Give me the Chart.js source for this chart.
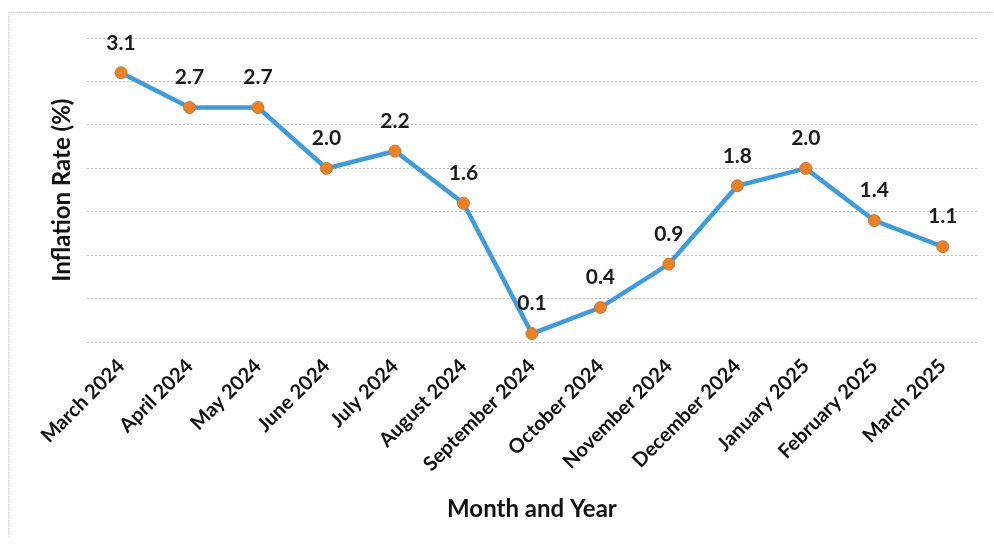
<!DOCTYPE html>
<html>
<head>
<meta charset="utf-8">
<script src="https://cdn.jsdelivr.net/npm/chart.js@4.4.1/dist/chart.umd.min.js"></script>
<style>
    html, body { margin: 0; padding: 0; background: #fff; }
    #wrap { position: relative; width: 994px; height: 545px; }
    #frame { position: absolute; left: 8px; top: 12px; right: 0; bottom: 8px;
             border-top: 1px dotted #d8d8d8; border-left: 1px dotted #d8d8d8; }
</style>
</head>
<body>
<div id="wrap">
    <div id="frame"></div>
    <canvas id="inflationChart" width="994" height="545"></canvas>
</div>
<script>
// =====================================
// DATA
// =====================================
const months = [
    "March 2024", "April 2024", "May 2024", "June 2024", "July 2024",
    "August 2024", "September 2024", "October 2024", "November 2024",
    "December 2024", "January 2025", "February 2025", "March 2025"
];
const inflationRates = [3.1, 2.7, 2.7, 2.0, 2.2, 1.6, 0.1, 0.4, 0.9, 1.8, 2.0, 1.4, 1.1];

const FONT = "Lato, 'Open Sans', sans-serif";

// =====================================
// VALUE LABELS ABOVE POINTS
// =====================================
const valueLabels = {
    id: "valueLabels",
    afterDatasetsDraw(chart) {
        const ctx = chart.ctx;
        const meta = chart.getDatasetMeta(0);
        ctx.save();
        ctx.font = `bold 21px ${FONT}`;
        ctx.fillStyle = "#1a1a1a";
        ctx.textAlign = "center";
        ctx.textBaseline = "middle";
        meta.data.forEach((pt, i) => {
            ctx.fillText(inflationRates[i].toFixed(1), pt.x, pt.y - 30);
        });
        ctx.restore();
    }
};

// =====================================
// CHART
// =====================================
new Chart(document.getElementById("inflationChart"), {
    type: "line",
    data: {
        labels: months,
        datasets: [{
            data: inflationRates,
            borderColor: "#3d9be0",
            borderWidth: 4.5,
            pointBackgroundColor: "#f07f1e",
            pointBorderColor: "#b5804f",
            pointBorderWidth: 1,
            pointRadius: 6,
            tension: 0
        }]
    },
    options: {
        responsive: false,
        animation: false,
        layout: { padding: { left: 44, right: 17, top: 38, bottom: 17 } },
        plugins: {
            legend: { display: false },
            tooltip: { enabled: false }
        },
        scales: {
            x: {
                offset: true,
                grid: { display: false },
                border: { display: false },
                ticks: {
                    color: "#111",
                    font: { family: FONT, size: 20, weight: "bold" },
                    maxRotation: 45,
                    minRotation: 45,
                    padding: 4
                },
                title: {
                    display: true,
                    text: "Month and Year",
                    color: "#111",
                    font: { family: FONT, size: 24, weight: "bold" },
                    padding: { top: 15 }
                }
            },
            y: {
                min: 0,
                max: 3.5,
                ticks: { display: false, stepSize: 0.5 },
                border: { display: false, dash: [2, 2] },
                grid: {
                    color: "#bdbdbd",
                    lineWidth: 1,
                    drawTicks: false
                },
                title: {
                    display: true,
                    text: "Inflation Rate (%)",
                    color: "#111",
                    font: { family: FONT, size: 24, weight: "bold" },
                    padding: { bottom: 10 }
                }
            }
        }
    },
    plugins: [valueLabels]
});
</script>
</body>
</html>
